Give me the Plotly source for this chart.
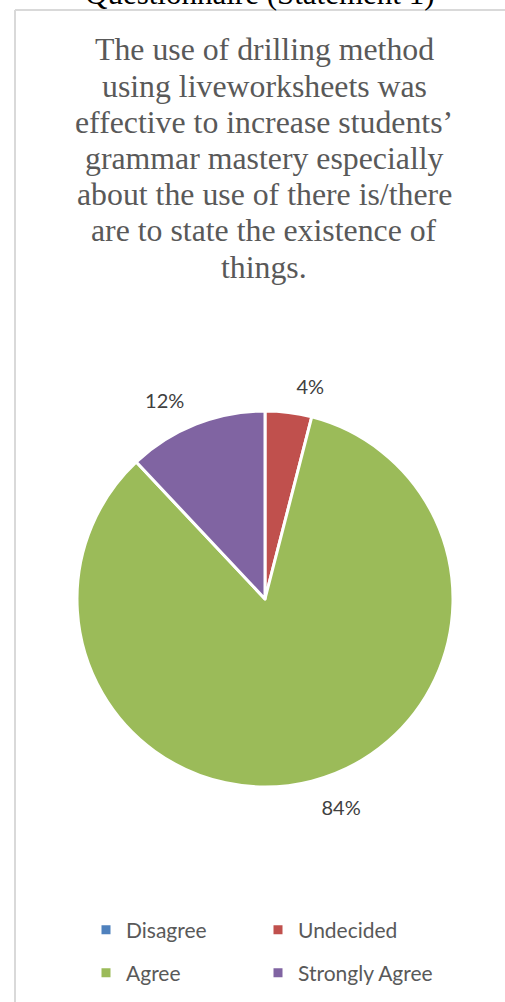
import plotly.graph_objects as go

categories = ["Disagree", "Undecided", "Agree", "Strongly Agree"]
values = [0, 4, 84, 12]
colors = ["#4F81BD", "#C0504D", "#9BBB59", "#8064A2"]

title_lines = [
    "The use of drilling method",
    "using liveworksheets was",
    "effective to increase students\u2019",
    "grammar mastery especially",
    "about the use of there is/there",
    "are to state the existence of",
    "things.",
]
outer_title = "Questionnaire (Statement 1)"

W, H = 505, 1002
CX, CY, R = 265, 599, 188   # pie centre / radius in pixels
LABEL_R = 203               # radius of the label ring

text_templates = ["" if v == 0 else "%{percent:.0%}" for v in values]

fig = go.Figure()
# main pie (no text)
fig.add_trace(go.Pie(
    labels=categories,
    values=values,
    sort=False,
    direction="clockwise",
    rotation=0,
    marker=dict(colors=colors, line=dict(color="white", width=3)),
    textinfo="none",
    domain=dict(x=[(CX - R) / W, (CX + R) / W], y=[1 - (CY + R) / H, 1 - (CY - R) / H]),
    showlegend=False,
    hoverinfo="label+percent",
))
# transparent ring carrying the outside percentage labels
fig.add_trace(go.Pie(
    labels=categories,
    values=values,
    sort=False,
    direction="clockwise",
    rotation=0,
    marker=dict(colors=["rgba(0,0,0,0)"] * len(values), line=dict(width=0)),
    texttemplate=text_templates,
    textposition="outside",
    textfont=dict(family="Lato, Open Sans, sans-serif", size=20, color="#404040"),
    domain=dict(x=[(CX - LABEL_R) / W, (CX + LABEL_R) / W],
                y=[1 - (CY + LABEL_R) / H, 1 - (CY - LABEL_R) / H]),
    showlegend=False,
    hoverinfo="skip",
))

# legend entries: 2 x 2 grid, one legend per entry
legend_ids = ["legend", "legend2", "legend3", "legend4"]
for name, col, lg in zip(categories, colors, legend_ids):
    fig.add_trace(go.Scatter(
        x=[None], y=[None], mode="markers", name=name,
        marker=dict(symbol="square", size=9, color=col),
        legend=lg, hoverinfo="skip",
    ))

annotations = []
for i, line in enumerate(title_lines):
    annotations.append(dict(
        text=line, xref="paper", yref="paper",
        x=264 / W, y=1 - (50 + 36.2 * i) / H, xanchor="center", yanchor="middle",
        showarrow=False,
        font=dict(family="Liberation Serif, Times New Roman, serif", size=31.8, color="#595959"),
    ))
annotations.append(dict(
    text=outer_title, xref="paper", yref="paper",
    x=260 / W, y=1 - 13 / H, xanchor="center", yanchor="bottom",
    showarrow=False,
    font=dict(family="Liberation Serif, Times New Roman, serif", size=31, color="#000000"),
))

legend_common = dict(
    orientation="h",
    xanchor="left",
    yanchor="middle",
    font=dict(family="Lato, Open Sans, sans-serif", size=21, color="#595959"),
    itemclick=False, itemdoubleclick=False,
    bgcolor="rgba(0,0,0,0)",
)
col_x = [86 / W, 258 / W]
row_y = [1 - 930 / H, 1 - 973 / H]

fig.update_layout(
    width=W, height=H,
    margin=dict(l=0, r=0, t=0, b=0),
    paper_bgcolor="white",
    plot_bgcolor="white",
    xaxis=dict(visible=False),
    yaxis=dict(visible=False),
    legend=dict(legend_common, x=col_x[0], y=row_y[0]),
    legend2=dict(legend_common, x=col_x[1], y=row_y[0]),
    legend3=dict(legend_common, x=col_x[0], y=row_y[1]),
    legend4=dict(legend_common, x=col_x[1], y=row_y[1]),
    shapes=[
        dict(type="line", xref="paper", yref="paper",
             x0=15 / W, x1=1.02, y0=1 - 10 / H, y1=1 - 10 / H,
             line=dict(color="#D9D9D9", width=2)),
        dict(type="line", xref="paper", yref="paper",
             x0=15 / W, x1=15 / W, y0=-0.02, y1=1 - 10 / H,
             line=dict(color="#D9D9D9", width=2)),
    ],
    annotations=annotations,
)

fig.write_html("out.html")
